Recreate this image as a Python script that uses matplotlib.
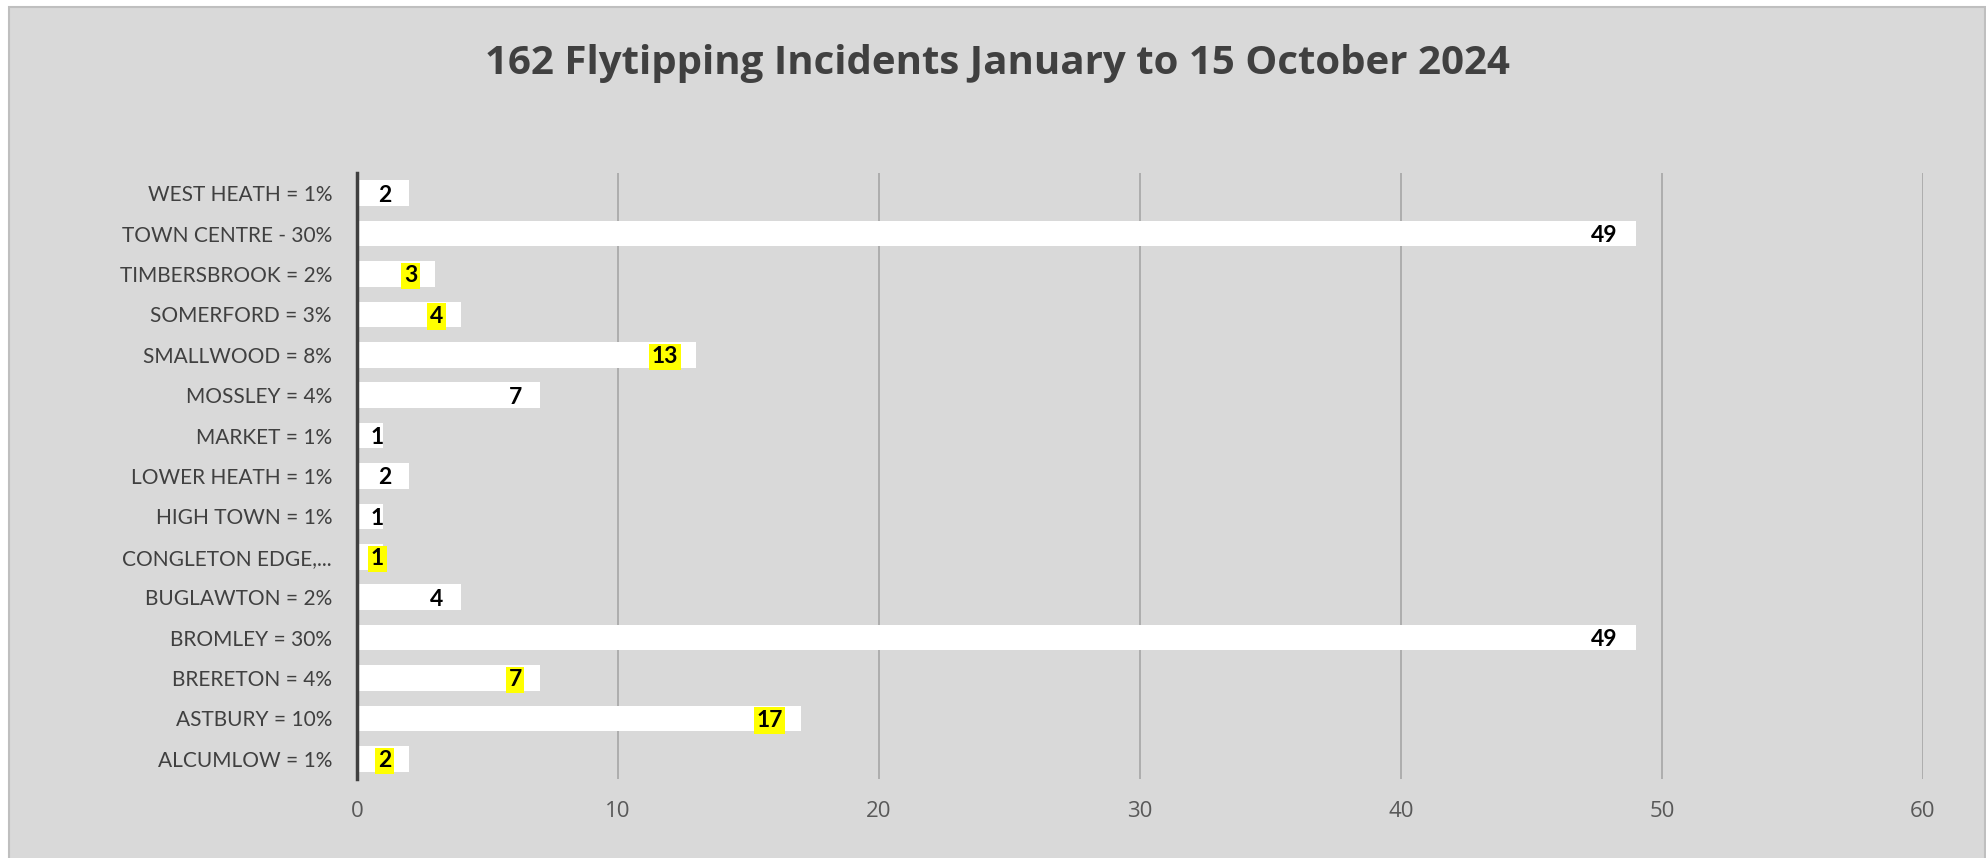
import matplotlib
matplotlib.use("Agg")
import matplotlib.pyplot as plt
from matplotlib.patches import Rectangle

# categories bottom -> top, as drawn in the chart
areas = ["ALCUMLOW = 1%", "ASTBURY = 10%", "BRERETON = 4%", "BROMLEY = 30%",
         "BUGLAWTON = 2%", "CONGLETON EDGE,...", "HIGH TOWN = 1%", "LOWER HEATH = 1%",
         "MARKET = 1%", "MOSSLEY = 4%", "SMALLWOOD = 8%", "SOMERFORD = 3%",
         "TIMBERSBROOK = 2%", "TOWN CENTRE - 30%", "WEST HEATH = 1%"]
incidents = [2, 17, 7, 49, 4, 1, 1, 2, 1, 7, 13, 4, 3, 49, 2]
highlighted = [True, True, True, False, False, True, False, False,
               False, False, True, True, True, False, False]
xticks = [0, 10, 20, 30, 40, 50, 60]

bg = "#d9d9d9"
fig = plt.figure(figsize=(19.86, 8.58), dpi=100, facecolor="white")
fig.patches.append(Rectangle((9/1986, -0.01), 1976/1986, 1.01 - 7/858,
                             transform=fig.transFigure, facecolor=bg,
                             edgecolor="#bfbfbf", linewidth=1.5, zorder=-5))

ax = fig.add_axes([357/1986, 1 - 779/858, 1566/1986, 606/858])
ax.set_facecolor(bg)
ax.patch.set_alpha(0)

y = range(len(areas))
ax.barh(y, incidents, height=0.63, color="white", zorder=2)

for i, v in enumerate(incidents):
    # excel "inside end" labels, pushed right when the bar is too short
    xr = max(v - 0.69, 1.03)
    box = dict(boxstyle="square,pad=0.12", facecolor="#ffff00", edgecolor="none") if highlighted[i] else None
    ax.text(xr, i, str(v), ha="right", va="center_baseline", fontsize=16.5, fontweight="bold",
            family=["Lato", "DejaVu Sans"], color="black", bbox=box, zorder=3)

ax.set_xlim(0, 60)
ax.set_ylim(-0.5, len(areas) - 0.5)
ax.set_xticks(xticks)
ax.set_yticks(list(y))
ax.set_yticklabels(areas, family=["Lato", "DejaVu Sans"],
                   fontsize=15, color="#404040")
for lab in ax.get_xticklabels():
    lab.set_family(["Open Sans", "DejaVu Sans"])
    lab.set_fontsize(16)
    lab.set_color("#595959")
ax.tick_params(axis="both", length=0)
ax.tick_params(axis="x", pad=16)
ax.tick_params(axis="y", pad=18)

ax.grid(axis="x", color="#a6a6a6", linewidth=1.2, zorder=1)
ax.set_axisbelow(True)
for s in ["top", "right", "bottom"]:
    ax.spines[s].set_visible(False)
ax.spines["left"].set_color("#404040")
ax.spines["left"].set_linewidth(2.5)
ax.spines["left"].set_zorder(4)

fig.text(997/1986, 1 - 74/858, "162 Flytipping Incidents January to 15 October 2024",
         ha="center", va="baseline", fontsize=29, fontweight="bold",
         family=["Open Sans", "DejaVu Sans"], color="#404040")

fig.savefig("out.png", dpi=100, facecolor="white")
